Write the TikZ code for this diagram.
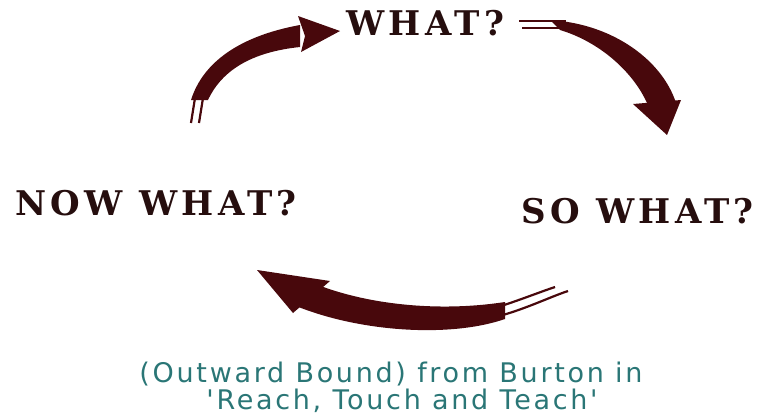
\documentclass[tikz,border=0pt]{standalone}
\usepackage{fontspec}
\setmainfont{DejaVu Serif}
\newfontfamily\headfont[LetterSpace=13]{DejaVu Serif Bold}
\newfontfamily\notefont[LetterSpace=10]{DejaVu Sans}
\usepackage{tikz}
\usetikzlibrary{positioning}
\definecolor{brushred}{RGB}{72, 8, 12}
\definecolor{headink}{RGB}{38, 14, 14}
\definecolor{noteteal}{RGB}{42, 118, 118}

\begin{document}
\begin{tikzpicture}[
    x=1pt, y=-1pt,
    phase/.style={font=\headfont\fontsize{34}{40}\selectfont, text=headink, inner sep=0pt, anchor=base west},
    note/.style={font=\notefont\fontsize{27}{30}\selectfont, text=noteteal, inner sep=0pt, anchor=base},
    brush/.style={fill=brushred, draw=none},
    split/.style={draw=brushred, line width=2.2pt}
]
    \useasboundingbox (0,0) rectangle (758,418);

    % Stages
    \node[phase] (what) at (346,35) {WHAT?};
    \node[phase] (sowhat) at (521,223) {SO WHAT?};
    \node[phase] (nowwhat) at (15,215) {NOW WHAT?};

    % Source
    \node[note] (source) at (391,382) {(Outward Bound) from Burton in};
    \node[note] (book) at (402,409) {'Reach, Touch and Teach'};

    % Brush arrow: now what -> what
    \fill[brush] (191,100) .. controls (203,62) and (240,36) .. (300,25)
        -- (300,47) .. controls (252,52) and (222,70) .. (208,100) -- cycle;
    \fill[brush] (298,16) -- (340,31) -- (301,52) -- (305,36) -- cycle;
    \draw[split] (195,98) -- (191,123);
    \draw[split] (203,98) -- (199,123);

    % Brush arrow: what -> so what
    \draw[split] (519,21) -- (566,21);
    \draw[split] (522,28) -- (562,28);
    \fill[brush] (550,20) .. controls (615,24) and (663,62) .. (676,103)
        -- (647,103) .. controls (633,72) and (600,42) .. (560,30) -- cycle;
    \fill[brush] (633,104) -- (681,100) -- (667,135) -- cycle;

    % Brush arrow: so what -> now what
    \fill[brush] (257,270) -- (330,281) -- (293,313) -- cycle;
    \fill[brush] (318,285) .. controls (370,305) and (440,312) .. (505,302)
        -- (505,319) .. controls (450,338) and (360,332) .. (296,306) -- cycle;
    \draw[split] (498,307) .. controls (520,300) and (540,292) .. (555,287);
    \draw[split] (503,315) .. controls (530,307) and (550,297) .. (568,291);
\end{tikzpicture}
\end{document}
